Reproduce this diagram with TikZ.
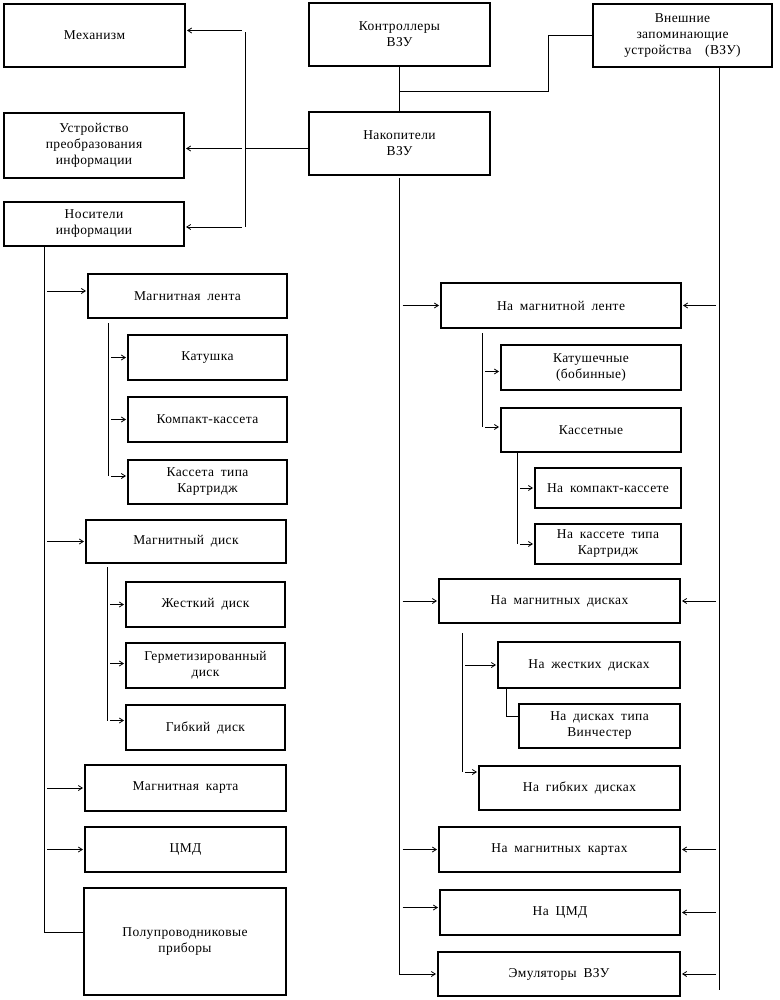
\documentclass[tikz,border=0pt]{standalone}
\usepackage{fontspec}
\setmainfont[LetterSpace=3,WordSpace=1.8]{Liberation Serif}
\usetikzlibrary{arrows.meta,calc}
\tikzset{
  box/.style={draw, line width=1.1pt, inner sep=1pt, outer sep=0pt, align=center,
    font=\fontsize{13.5}{16}\selectfont},
  ln/.style={line width=0.9pt},
  arr/.style={line width=0.8pt, -{Straight Barb[length=4pt,width=5pt]}, shorten >=2pt, shorten <=3pt}
}
\newcommand\mybox[6]{\node[box,minimum width=#4pt,minimum height=#5pt] (#1) at (#2,#3) {#6};}
\begin{document}
\begin{tikzpicture}[x=1pt,y=-1pt]
\useasboundingbox (0,0) rectangle (779,1000);
% top row
\mybox{mech}{94.5}{35.5}{181}{63}{Механизм}
\mybox{ustr}{94}{145.5}{180}{65}{Устройство\\преобразования\\информации}
\mybox{nosit}{94}{224}{180}{44}{Носители\\информации}
\mybox{kontr}{399.5}{34.5}{181}{63}{Контроллеры\\ВЗУ}
\mybox{nakop}{399.5}{143.5}{181}{63}{Накопители\\ВЗУ}
\mybox{vnesh}{682.5}{35.5}{179}{63}{Внешние\\запоминающие\\устройства~~(ВЗУ)}
% left column
\mybox{mlenta}{187.5}{296}{199}{44}{Магнитная лента}
\mybox{katushka}{207.5}{357.5}{159}{45}{Катушка}
\mybox{kompakt}{207.5}{419.5}{159}{45}{Компакт-кассета}
\mybox{kartr}{207.5}{482}{159}{44}{Кассета типа\\Картридж}
\mybox{mdisk}{186}{541.5}{200}{43}{Магнитный диск}
\mybox{zhest}{205.5}{604.5}{159}{45}{Жесткий диск}
\mybox{germ}{205.5}{665.5}{159}{45}{Герметизированный\\диск}
\mybox{gibk}{205.5}{727.5}{159}{45}{Гибкий диск}
\mybox{mkarta}{185.5}{788}{201}{46}{Магнитная карта}
\mybox{cmd}{185.5}{849.5}{201}{45}{ЦМД}
\mybox{polu}{185}{941.5}{202}{107}{Полупроводниковые\\приборы}
% right column
\mybox{nml}{561}{305.5}{240}{45}{На магнитной ленте}
\mybox{katush}{591}{367.5}{180}{45}{Катушечные\\(бобинные)}
\mybox{kasset}{591}{430}{180}{44}{Кассетные}
\mybox{nkk}{608}{488}{146}{40}{На компакт-кассете}
\mybox{nkt}{608}{544}{146}{40}{На кассете типа\\Картридж}
\mybox{nmd}{559.5}{601}{241}{44}{На магнитных дисках}
\mybox{nzhd}{589}{665}{182}{46}{На жестких дисках}
\mybox{nvin}{599.5}{726}{161}{44}{На дисках типа\\Винчестер}
\mybox{ngd}{579.5}{788}{201}{44}{На гибких дисках}
\mybox{nmk}{559.5}{849.5}{241}{45}{На магнитных картах}
\mybox{ncmd}{560}{912.5}{240}{45}{На ЦМД}
\mybox{emul}{559}{974}{242}{44}{Эмуляторы ВЗУ}
% bus coordinates
\coordinate (busA) at (245,0);
\coordinate (jx) at (548,0);
\coordinate (busR) at (719,0);
\coordinate (busL) at (44,0);
\coordinate (sA) at (108,0);
\coordinate (sB) at (107,0);
\coordinate (sC) at (482,0);
\coordinate (sD) at (517,0);
\coordinate (sE) at (462,0);
\coordinate (sF) at (506,0);
\coordinate (endR) at (719,990);
% top connections
\draw[ln] ([yshift=3pt]busA |- mech.east) -- ([yshift=-3pt]busA |- nosit.east);
\draw[arr] ([yshift=5pt]busA |- mech.east) -- ([yshift=5pt]mech.east);
\draw[arr] ([yshift=-3pt]busA |- ustr.east) -- ([yshift=-3pt]ustr.east);
\draw[arr] ([yshift=-3pt]busA |- nosit.east) -- ([yshift=-3pt]nosit.east);
\draw[ln] ([yshift=-5pt]nakop.west) -- ([yshift=-5pt]busA |- nakop.west);
\draw[ln] (kontr.south) -- (nakop.north);
\coordinate (km) at ($(kontr.south)!0.55!(nakop.north)$);
\draw[ln] (km) -- (km -| jx) |- (vnesh.west);
\draw[ln] (busR |- vnesh.south) -- (endR);
% left bus
\draw[ln] (busL |- nosit.south) -- ([yshift=9pt]busL |- polu.west) -- ([yshift=9pt]polu.west);
\draw[arr] ([yshift=5pt]busL |- mlenta.west) -- ([yshift=5pt]mlenta.west);
\draw[arr] (busL |- mdisk.west) -- (mdisk.west);
\draw[arr] (busL |- mkarta.west) -- (mkarta.west);
\draw[arr] (busL |- cmd.west) -- (cmd.west);
% magnetic tape sub-bus
\draw[ln] ([yshift=-5pt]sA |- mlenta.south) -- ([yshift=6pt]sA |- kartr.west);
\draw[arr] (sA |- katushka.west) -- (katushka.west);
\draw[arr] (sA |- kompakt.west) -- (kompakt.west);
\draw[arr] ([yshift=6pt]sA |- kartr.west) -- ([yshift=6pt]kartr.west);
% magnetic disk sub-bus
\draw[ln] ([yshift=-4pt]sB |- mdisk.south) -- ([yshift=7pt]sB |- gibk.west);
\draw[arr] (sB |- zhest.west) -- (zhest.west);
\draw[arr] ([yshift=2pt]sB |- germ.west) -- ([yshift=2pt]germ.west);
\draw[arr] ([yshift=7pt]sB |- gibk.west) -- ([yshift=7pt]gibk.west);
% right: nakopiteli bus
\draw[arr] (nakop.south) |- (emul.west);
\draw[arr] (nakop.south |- nml.west) -- (nml.west);
\draw[arr] (nakop.south |- nmd.west) -- (nmd.west);
\draw[arr] (nakop.south |- nmk.west) -- (nmk.west);
\draw[arr] ([yshift=5pt]nakop.south |- ncmd.west) -- ([yshift=5pt]ncmd.west);
% right: external bus
\draw[arr] (busR |- nml.east) -- (nml.east);
\draw[arr] (busR |- nmd.east) -- (nmd.east);
\draw[arr] (busR |- nmk.east) -- (nmk.east);
\draw[arr] (busR |- ncmd.east) -- (ncmd.east);
\draw[arr] (busR |- emul.east) -- (emul.east);
% tape sub-buses
\draw[ln] ([yshift=-5pt]sC |- nml.south) -- ([yshift=3pt]sC |- kasset.west);
\draw[arr] ([yshift=-4pt]sC |- katush.west) -- ([yshift=-4pt]katush.west);
\draw[arr] ([yshift=3pt]sC |- kasset.west) -- ([yshift=3pt]kasset.west);
\draw[ln] (sD |- kasset.south) -- (sD |- nkt.west);
\draw[arr] (sD |- nkk.west) -- (nkk.west);
\draw[arr] (sD |- nkt.west) -- (nkt.west);
% disk sub-buses
\draw[ln] ([yshift=-10pt]sE |- nmd.south) -- ([yshift=16pt]sE |- ngd.west);
\draw[arr] (sE |- nzhd.west) -- (nzhd.west);
\draw[arr] ([yshift=16pt]sE |- ngd.west) -- ([yshift=16pt]ngd.west);
\draw[ln] (sF |- nzhd.south) -- ([yshift=10pt]sF |- nvin.west) -- ([yshift=10pt]nvin.west);
\end{tikzpicture}
\end{document}
